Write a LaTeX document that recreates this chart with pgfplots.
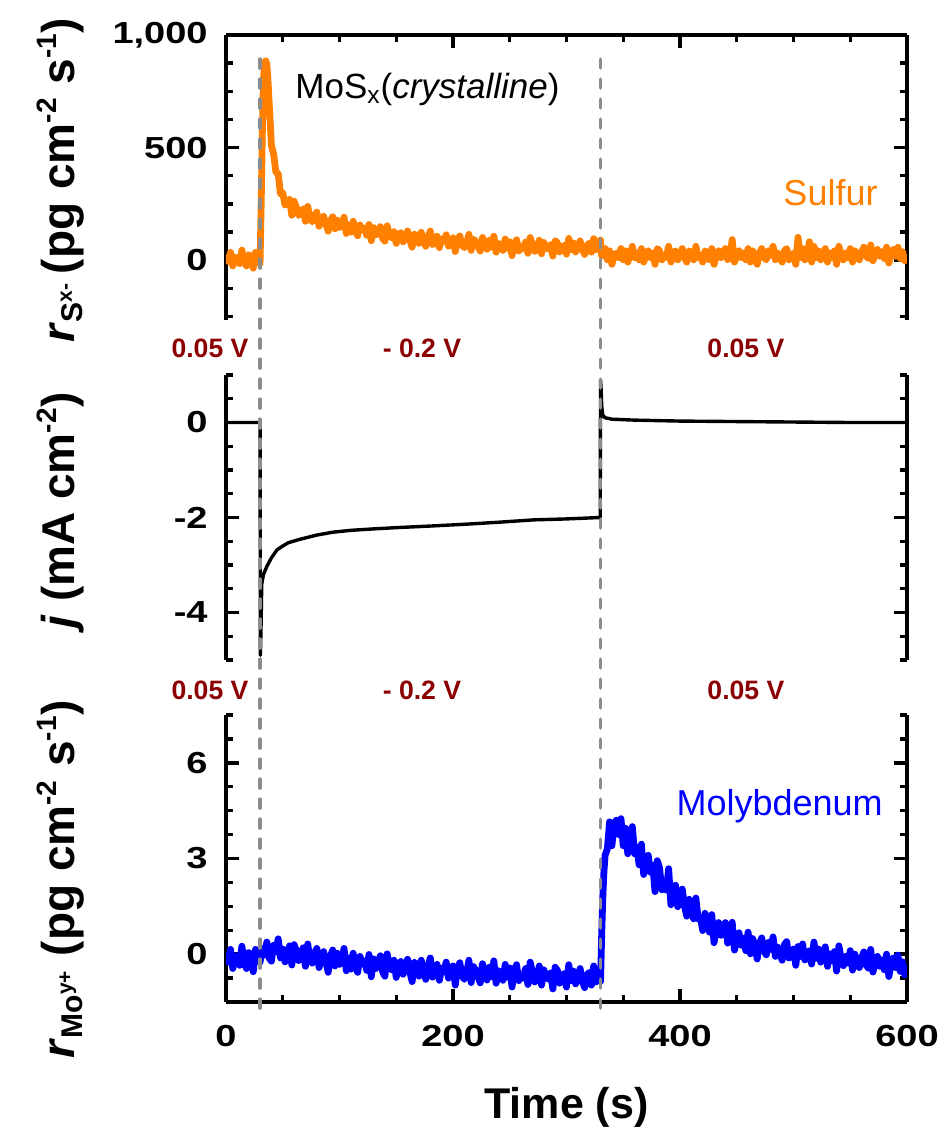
\documentclass[border=0pt]{standalone}
\usepackage{fontspec}
\setmainfont{Liberation Sans}
\newfontfamily\tickfont[FakeStretch=1.25]{Liberation Sans}
\usepackage{pgfplots}
\pgfplotsset{compat=1.18}

\definecolor{sulfur}{RGB}{255,128,0}
\definecolor{moly}{RGB}{0,0,255}
\definecolor{potential}{RGB}{139,0,0}
\definecolor{marker}{RGB}{140,140,140}

\newcommand\labelfont{\bfseries\fontsize{23}{26}\selectfont}
\newcommand\sups[1]{\textsuperscript{\fontsize{14}{14}\selectfont #1}}
\newcommand\subs[1]{\textsubscript{\fontsize{15}{15}\selectfont #1}}

\pgfplotsset{
  panel/.style={
    scale only axis, width=340.5pt,
    xmin=0, xmax=600,
    axis line style={line width=1.9pt},
    every tick/.append style={black, line width=1.7pt},
    major tick length=6.5pt, minor tick length=3.5pt,
    tick align=inside,
    xtick={0,200,400,600},
    minor xtick={50,100,150,250,300,350,450,500,550},
    tick label style={font=\tickfont\bfseries\fontsize{15.2}{16}\selectfont},
    yticklabel style={inner sep=0pt, anchor=east, xshift=-9pt},
    xticklabel style={inner sep=0pt, anchor=north, yshift=-11.5pt},
  },
  ylab/.style={every axis y label/.style={at={(axis description cs:-0.222,#1)},
      rotate=90, anchor=base, font=\labelfont}},
  xlab/.style={every axis x label/.style={at={(axis description cs:0.5,0)}, anchor=base,
      yshift=-58pt, font=\bfseries\fontsize{21.5}{24}\selectfont}},
  trace/.style={line width=3.4pt, line join=round, no markers},
}

\begin{document}
\begin{tikzpicture}
\useasboundingbox (-113pt,-63.5pt) rectangle (359pt,501pt);

% ---------------- sulfur dissolution rate ----------------
\begin{axis}[panel, at={(0,341pt)}, anchor=south west, height=142.5pt,
  axis x line*=top, axis y line=box, tick align=inside,
  xticklabels={},
  ymin=-265, ymax=1000,
  ytick={0,500,1000}, yticklabels={0,500,{1,000}},
  minor ytick={-250,-125,125,250,375,625,750,875},
  ylab=0.491,
  ylabel={\textit{r}\subs{S\textsuperscript{x-}}\,(pg cm\sups{-2} s\sups{-1})},
]
\addplot[trace, sulfur] coordinates {
(0,25)(2,-5)(4,35)(6,-25)(8,15)(10,5)(12,-15)(14,45)(16,-5)(18,-25)(20,25)(22,15)(24,-35)(26,35)(28,5)(30,-15)
(31,250)(32,560)(33,800)(34,875)(35,885)(36,870)(37,800)(38,700)(39,610)
(40,510)(42,470)(44,390)(46,385)(48,295)(50,300)(52,245)(54,252)(56,270)(58,200)
(60,262)(62,235)(64,199)(66,213)(68,228)(70,173)(72,239)(74,185)(76,171)(78,197)
(80,214)(82,151)(84,178)(86,195)(88,162)(90,129)(92,176)(94,193)(96,140)(98,178)
(100,145)(102,153)(104,191)(106,119)(108,157)(110,125)(112,173)(114,131)(116,109)(118,157)
(120,135)(122,143)(124,111)(126,159)(128,87)(130,145)(132,113)(134,131)(136,149)(138,97)
(140,85)(142,153)(144,111)(146,99)(148,127)(150,75)(152,114)(154,123)(156,82)(158,101)
(160,130)(162,89)(164,58)(166,117)(168,106)(170,75)(172,124)(174,93)(176,62)(178,101)
(180,130)(182,69)(184,78)(186,107)(188,56)(190,95)(192,84)(194,113)(196,62)(198,71)
(200,100)(202,39)(204,88)(206,108)(208,67)(210,56)(212,76)(214,115)(216,44)(218,94)
(220,83)(222,62)(224,41)(226,101)(228,70)(230,49)(232,89)(234,58)(236,107)(238,36)
(240,76)(242,65)(244,44)(246,94)(248,53)(250,82)(252,21)(254,71)(256,91)(258,41)
(260,61)(262,51)(264,81)(266,31)(268,101)(270,69)(272,39)(274,49)(276,89)(278,29)
(280,79)(282,59)(284,49)(286,69)(288,19)(290,87)(292,77)(294,37)(296,57)(298,67)
(300,27)(302,97)(304,47)(306,77)(308,37)(310,56)(312,86)(314,46)(316,26)(318,66)
(320,76)(322,36)(324,96)(326,46)(328,56)(330,90)(331,20)
(332,32)(334,52)(336,2)(338,42)(340,-18)(342,22)(344,32)(346,12)(348,52)(350,2)
(352,42)(354,-8)(356,22)(358,62)(360,12)(362,32)(364,2)(366,52)(368,-8)(370,22)
(372,42)(374,12)(376,32)(378,-18)(380,52)(382,42)(384,2)(386,22)(388,12)(390,62)
(392,-8)(394,32)(396,42)(398,2)(400,22)(402,52)(404,12)(406,-8)(408,42)(410,32)
(412,2)(414,62)(416,12)(418,22)(420,-8)(422,42)(424,32)(426,2)(428,52)(430,-18)
(432,22)(434,42)(436,12)(438,32)(440,52)(442,2)(444,12)(446,92)(448,-8)(450,22)
(452,42)(454,12)(456,32)(458,2)(460,52)(462,-8)(464,42)(466,22)(468,-18)(470,32)
(472,52)(474,12)(476,2)(478,42)(480,22)(482,62)(484,2)(486,32)(488,12)(490,-8)
(492,42)(494,52)(496,2)(498,22)(500,32)(502,-18)(504,102)(506,12)(508,52)(510,2)
(512,22)(514,82)(516,-8)(518,62)(520,12)(522,42)(524,2)(526,22)(528,52)(530,-8)
(532,32)(534,12)(536,42)(538,-18)(540,62)(542,22)(544,2)(546,32)(548,12)(550,52)
(552,-8)(554,42)(556,22)(558,2)(560,38)(562,58)(564,18)(566,8)(568,68)(570,-2)
(572,28)(574,48)(576,18)(578,38)(580,8)(582,58)(584,-12)(586,28)(588,48)(590,18)
(592,58)(594,8)(596,38)(598,-2)(600,28)
};
\node[anchor=base west, inner sep=0pt, font=\fontsize{17.5}{20}\selectfont]
  at (axis cs:60.8,720) {MoS\textsubscript{x}(\textit{crystalline})};
\node[anchor=base east, inner sep=0pt, text=sulfur, font=\fontsize{18}{20}\selectfont]
  at (axis cs:574.4,245) {Sulfur};
\coordinate (stepA top) at (axis cs:30,893);
\coordinate (stepB top) at (axis cs:330,893);
\end{axis}

% ---------------- current density ----------------
\begin{axis}[panel, at={(0,171pt)}, anchor=south west, height=142.5pt,
  axis x line=none, axis y line=box, tick align=inside, clip=false,
  ymin=-5, ymax=1,
  ytick={-4,-2,0}, yticklabels={-4,-2,0},
  minor ytick={-5,-4.5,-3.5,-3,-2.5,-1.5,-1,-0.5,0.5,1},
  ylab=0.526,
  ylabel={\textit{j} (mA cm\sups{-2})},
]
\addplot[no markers, black, line width=1.7pt, line join=round] coordinates {
(0,0)(30,0)(30.3,-4.9)(30.8,-4.4)(31.5,-3.4)(33,-3.2)(36,-3.03)(40,-2.85)(45,-2.68)
(50,-2.6)(55,-2.53)(65,-2.46)(80,-2.37)(94,-2.31)(110,-2.27)(130,-2.24)(153,-2.21)
(180,-2.18)(212,-2.14)(240,-2.1)(271,-2.05)(300,-2.03)(329.7,-2.0)
(330,0.9)(330.5,0.7)(331,0.35)(332,0.15)(334,0.1)(340,0.07)(360,0.05)(400,0.03)
(450,0.02)(500,0.01)(550,0.0)(600,0.0)
};
\begin{scope}[font=\bfseries\fontsize{13.3}{15}\selectfont, text=potential, inner sep=0pt]
\node at (axis cs:-14.1,1.57) {0.05 V};
\node at (axis cs:172.7,1.57) {- 0.2 V};
\node at (axis cs:458.1,1.57) {0.05 V};
\node at (axis cs:-14.1,-5.63) {0.05 V};
\node at (axis cs:172.7,-5.63) {- 0.2 V};
\node at (axis cs:458.1,-5.63) {0.05 V};
\end{scope}
\end{axis}

% ---------------- molybdenum dissolution rate ----------------
\begin{axis}[panel, at={(0,0)}, anchor=south west, height=143.5pt,
  axis x line*=bottom, axis y line=box, tick align=inside,
  xticklabels={0,200,400,600},
  xlab, xlabel={Time (s)},
  ymin=-1.5, ymax=7.5,
  ytick={0,3,6}, yticklabels={0,3,6},
  minor ytick={-1.5,-0.75,0.75,1.5,2.25,3.75,4.5,5.25,6.75,7.5},
  ylab=0.4286,
  ylabel={\textit{r}\subs{Mo\textsuperscript{y+}} (pg cm\sups{-2} s\sups{-1})},
]
\addplot[trace, moly] coordinates {
(0,0.05)(2,-0.25)(4,0.15)(6,-0.45)(8,-0.05)(10,-0.15)(12,-0.35)(14,0.25)(16,-0.25)(18,-0.45)
(20,0.05)(22,-0.05)(24,-0.55)(26,0.15)(28,-0.15)(30,-0.25)(32,0.18)(34,-0.02)(36,0.38)(38,-0.12)
(40,-0.22)(42,0.28)(44,0.08)(46,0.48)(48,-0.12)(50,0.16)(52,-0.24)(54,-0.04)(56,0.26)(58,-0.34)
(60,0.3)(62,0.1)(64,-0.2)(66,0)(68,0.2)(70,-0.38)(72,0.32)(74,-0.18)(76,-0.28)(78,0.02)
(80,0.18)(82,-0.42)(84,-0.12)(86,0.08)(88,-0.22)(90,-0.57)(92,-0.07)(94,0.13)(96,-0.37)(98,0.03)
(100,-0.32)(102,-0.22)(104,0.18)(106,-0.52)(108,-0.12)(110,-0.47)(112,0.03)(114,-0.37)(116,-0.57)(118,-0.07)
(120,-0.31)(122,-0.21)(124,-0.51)(126,-0.01)(128,-0.71)(130,-0.15)(132,-0.45)(134,-0.25)(136,-0.05)(138,-0.55)
(140,-0.69)(142,0.01)(144,-0.39)(146,-0.49)(148,-0.19)(150,-0.73)(152,-0.33)(154,-0.23)(156,-0.63)(158,-0.43)
(160,-0.16)(162,-0.56)(164,-0.86)(166,-0.26)(168,-0.36)(170,-0.69)(172,-0.19)(174,-0.49)(176,-0.79)(178,-0.39)
(180,-0.12)(182,-0.72)(184,-0.62)(186,-0.32)(188,-0.82)(190,-0.45)(192,-0.55)(194,-0.25)(196,-0.75)(198,-0.65)
(200,-0.37)(202,-0.97)(204,-0.47)(206,-0.27)(208,-0.67)(210,-0.79)(212,-0.59)(214,-0.19)(216,-0.89)(218,-0.39)
(220,-0.5)(222,-0.7)(224,-0.9)(226,-0.3)(228,-0.6)(230,-0.81)(232,-0.41)(234,-0.71)(236,-0.21)(238,-0.91)
(240,-0.52)(242,-0.62)(244,-0.82)(246,-0.32)(248,-0.72)(250,-0.43)(252,-1.03)(254,-0.53)(256,-0.33)(258,-0.83)
(260,-0.65)(262,-0.75)(264,-0.45)(266,-0.95)(268,-0.25)(270,-0.57)(272,-0.87)(274,-0.77)(276,-0.37)(278,-0.97)
(280,-0.49)(282,-0.69)(284,-0.79)(286,-0.59)(288,-1.09)(290,-0.41)(292,-0.51)(294,-0.91)(296,-0.71)(298,-0.61)
(300,-1.03)(302,-0.33)(304,-0.83)(306,-0.53)(308,-0.93)(310,-0.75)(312,-0.45)(314,-0.85)(316,-1.05)(318,-0.65)
(320,-0.57)(322,-0.97)(324,-0.37)(326,-0.87)(328,-0.77)(330,-0.85)(331,0.6)(332,1.8)(333,2.6)(334,3.1)
(336,3.3)(338,4.15)(340,3.4)(342,4.1)(344,4.2)(346,3.75)(348,4.25)(350,3.4)(352,3.95)(354,3.15)
(356,3.5)(358,4.0)(360,3.15)(362,3.35)(364,2.8)(366,3.45)(368,2.5)(370,2.88)(372,3.1)(374,2.57)
(376,2.79)(378,1.96)(380,2.93)(382,2.7)(384,2.02)(386,2.24)(388,2.01)(390,2.68)(392,1.55)(394,2.08)
(396,2.16)(398,1.49)(400,1.72)(402,2.04)(404,1.5)(406,1.19)(408,1.72)(410,1.53)(412,1.11)(414,1.76)
(416,1.1)(418,1.16)(420,0.74)(422,1.28)(424,1.1)(426,0.69)(428,1.24)(430,0.36)(432,0.8)(434,0.99)
(436,0.59)(438,0.79)(440,0.99)(442,0.35)(444,0.43)(446,1.0)(448,0.13)(450,0.46)(452,0.67)(454,0.28)
(456,0.5)(458,0.11)(460,0.69)(462,0.01)(464,0.49)(466,0.27)(468,-0.15)(470,0.33)(472,0.51)(474,0.1)
(476,-0.02)(478,0.37)(480,0.15)(482,0.54)(484,-0.07)(486,0.22)(488,0.01)(490,-0.19)(492,0.3)(494,0.39)
(496,-0.12)(498,0.07)(500,0.16)(502,-0.35)(504,0.24)(506,-0.07)(508,0.32)(510,-0.18)(512,0.01)(514,0.1)
(516,-0.31)(518,0.38)(520,-0.13)(522,0.16)(524,-0.25)(526,-0.06)(528,0.23)(530,-0.38)(532,0.01)(534,-0.2)
(536,0.08)(538,-0.53)(540,0.26)(542,-0.15)(544,-0.36)(546,-0.07)(548,-0.28)(550,0.11)(552,-0.5)(554,0)
(556,-0.21)(558,-0.42)(560,-0.12)(562,0.07)(564,-0.34)(566,-0.44)(568,0.15)(570,-0.56)(572,-0.26)(574,-0.07)
(576,-0.38)(578,-0.18)(580,-0.49)(582,0)(584,-0.7)(586,-0.31)(588,-0.12)(590,-0.42)(592,-0.03)(594,-0.54)
(596,-0.24)(598,-0.65)(600,-0.35)
};
\node[anchor=base east, inner sep=0pt, text=moly, font=\fontsize{18}{20}\selectfont]
  at (axis cs:578.9,4.36) {Molybdenum};
\coordinate (stepA bottom) at (axis cs:30,-1.84);
\coordinate (stepB bottom) at (axis cs:330,-1.84);
\end{axis}

% potential steps at 30 s and 330 s, across all three panels
\draw[marker, line width=1.7pt, line cap=round, dash pattern=on 4.5pt off 5.5pt]
  (stepA top) -- (stepA bottom);
\draw[marker, line width=1.7pt, line cap=round, dash pattern=on 4.5pt off 5.5pt]
  (stepB top) -- (stepB bottom);
\end{tikzpicture}
\end{document}
